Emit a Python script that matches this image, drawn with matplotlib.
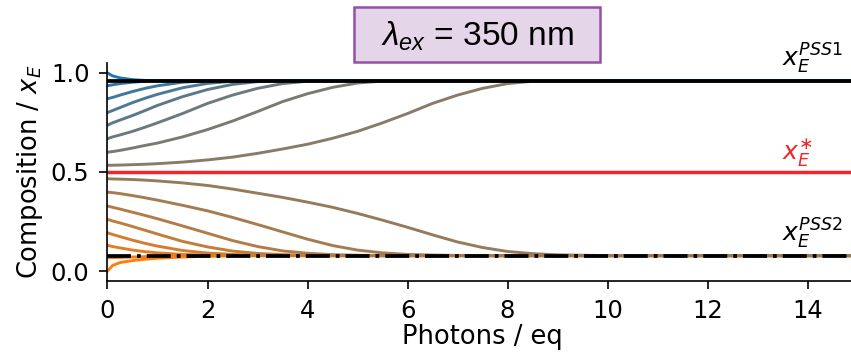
import matplotlib
matplotlib.use('Agg')
import matplotlib.pyplot as plt
from matplotlib.colors import LinearSegmentedColormap
from matplotlib.patches import Rectangle

# photon dose axis shared by all traces
photons = [0, 0.1, 0.25, 0.5, 0.75, 1, 1.5, 2, 2.5, 3, 3.5, 4, 4.5, 5, 5.5, 6,
           6.5, 7, 7.5, 8, 8.5, 9, 9.5, 10, 15]

# composition traces, lowest starting value first
comp_00 = [.000, .028, .043, .053, .060, .065, .071, .075, .077, .078, .078, .078, .078,
           .078, .078, .078, .078, .078, .078, .078, .078, .078, .078, .078, .078]
comp_01 = [.067, .068, .069, .071, .073, .075, .077, .078, .078, .078, .078, .078, .078,
           .078, .078, .078, .078, .078, .078, .078, .078, .078, .078, .078, .078]
comp_02 = [.130, .124, .117, .106, .098, .092, .084, .081, .079, .078, .078, .078, .078,
           .078, .078, .078, .078, .078, .078, .078, .078, .078, .078, .078, .078]
comp_03 = [.193, .185, .174, .156, .140, .126, .104, .091, .084, .080, .079, .078, .078,
           .078, .078, .078, .078, .078, .078, .078, .078, .078, .078, .078, .078]
comp_04 = [.261, .253, .243, .225, .206, .187, .150, .122, .101, .089, .083, .080, .078,
           .078, .078, .078, .078, .078, .078, .078, .078, .078, .078, .078, .078]
comp_05 = [.328, .322, .313, .297, .281, .264, .228, .191, .154, .124, .102, .090, .083,
           .080, .078, .078, .078, .078, .078, .078, .078, .078, .078, .078, .078]
comp_06 = [.398, .396, .391, .381, .370, .358, .332, .304, .271, .235, .198, .161, .129,
           .106, .092, .084, .081, .079, .078, .078, .078, .078, .078, .078, .078]
comp_07 = [.466, .465, .464, .462, .459, .455, .445, .432, .414, .393, .372, .348, .322,
           .291, .257, .221, .183, .147, .119, .099, .088, .082, .080, .078, .078]
comp_08 = [.534, .534, .535, .537, .539, .542, .550, .561, .575, .594, .616, .640, .670,
           .705, .748, .795, .846, .888, .922, .946, .958, .960, .960, .960, .960]
comp_09 = [.600, .603, .609, .621, .634, .646, .677, .714, .757, .805, .855, .895, .927,
           .949, .959, .960, .960, .960, .960, .960, .960, .960, .960, .960, .960]
comp_10 = [.668, .677, .687, .705, .726, .748, .795, .846, .888, .922, .946, .958, .960,
           .960, .960, .960, .960, .960, .960, .960, .960, .960, .960, .960, .960]
comp_11 = [.736, .748, .762, .785, .810, .836, .880, .916, .942, .956, .960, .960, .960,
           .960, .960, .960, .960, .960, .960, .960, .960, .960, .960, .960, .960]
comp_12 = [.800, .810, .825, .850, .872, .892, .925, .947, .958, .960, .960, .960, .960,
           .960, .960, .960, .960, .960, .960, .960, .960, .960, .960, .960, .960]
comp_13 = [.870, .876, .888, .906, .922, .935, .953, .960, .960, .960, .960, .960, .960,
           .960, .960, .960, .960, .960, .960, .960, .960, .960, .960, .960, .960]
comp_14 = [.935, .940, .946, .953, .958, .960, .960, .960, .960, .960, .960, .960, .960,
           .960, .960, .960, .960, .960, .960, .960, .960, .960, .960, .960, .960]
comp_15 = [1.00, .985, .975, .966, .962, .961, .960, .960, .960, .960, .960, .960, .960,
           .960, .960, .960, .960, .960, .960, .960, .960, .960, .960, .960, .960]

traces = [comp_00, comp_01, comp_02, comp_03, comp_04, comp_05, comp_06, comp_07,
          comp_08, comp_09, comp_10, comp_11, comp_12, comp_13, comp_14, comp_15]

# stationary states
x_pss1 = 0.96
x_star = 0.5
x_pss2 = 0.078

xticks = [0, 2, 4, 6, 8, 10, 12, 14]
yticks = [0.0, 0.5, 1.0]

plt.rcParams['mathtext.rm'] = 'Liberation Sans'
plt.rcParams['mathtext.it'] = 'Liberation Sans:italic'

fig = plt.figure(figsize=(8.51, 3.59), dpi=100)
ax = fig.add_axes([107.5 / 851, 1 - 281 / 359, 750 / 851, 218 / 359])

cmap = LinearSegmentedColormap.from_list('ob', ['#ff7f0e', '#1f77b4'])
for i, tr in enumerate(traces):
    ax.plot(photons, tr, color=cmap(i / (len(traces) - 1)), lw=2.1)

ax.axhline(x_pss1, color='black', lw=2.7)
ax.axhline(x_star, color='#f0262b', lw=2.5)
ax.axhline(x_pss2, color='black', lw=2.7, ls='-.')

ax.text(13.5, x_pss1 + 0.025, r'$x_E^{PSS1}$', fontsize=18, va='bottom', ha='left')
ax.text(13.5, x_star + 0.022, r'$x_E^{\ast}$', fontsize=18, va='bottom', ha='left', color='#f0262b')
ax.text(13.5, x_pss2 + 0.025, r'$x_E^{PSS2}$', fontsize=18, va='bottom', ha='left')

ax.set_xlim(0, 15)
ax.set_ylim(-0.05, 1.05)
ax.set_xticks(xticks)
ax.set_yticks(yticks)
ax.tick_params(labelsize=17.5, length=6, width=1.2, pad=7)
for s in ['top', 'right']:
    ax.spines[s].set_visible(False)
for s in ['left', 'bottom']:
    ax.spines[s].set_linewidth(1.2)
ax.set_xlabel('Photons / eq', fontsize=18.5, labelpad=1)
ax.set_ylabel('Composition / $x_E$', fontsize=18.5, labelpad=4)

# title box
fig.patches.append(Rectangle((354 / 851, 1 - 62 / 359), 246 / 851, 55 / 359,
                             transform=fig.transFigure, fc='#e5d5e9', ec='#9650a5', lw=1.8))
fig.text(477.5 / 851, 1 - 36 / 359, r'$\lambda_{ex}$ = 350 nm', fontsize=24,
         family='Liberation Sans', math_fontfamily='custom', ha='center', va='center')

fig.savefig('out.png', dpi=100)
